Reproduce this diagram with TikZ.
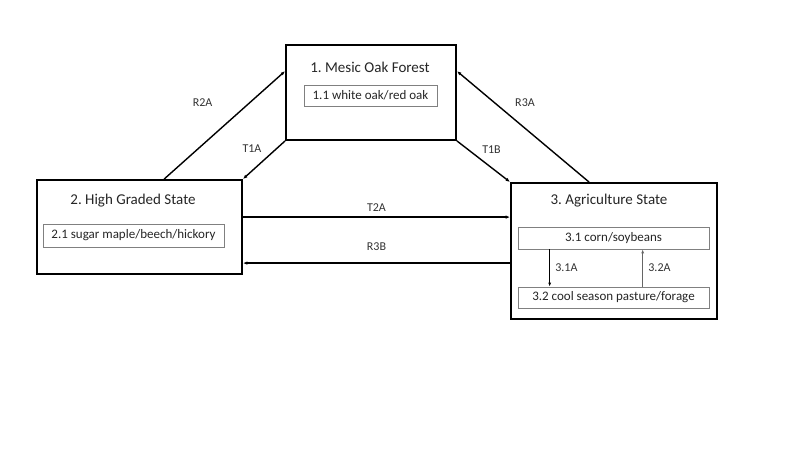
\documentclass[tikz,border=0pt]{standalone}
\usepackage{fontspec}
\setmainfont{Carlito}
\usetikzlibrary{arrows.meta,positioning}
\frenchspacing

\begin{document}
\begin{tikzpicture}[x=1pt, y=-1pt, line cap=butt,
  state/.style={draw, line width=1.8pt, inner sep=0pt},
  title/.style={font=\fontsize{15}{17}\selectfont, text=black!85},
  phase/.style={draw=black!50, line width=0.7pt, inner sep=0pt, font=\fontsize{13}{15}\selectfont, text=black!85},
  trans/.style={line width=1.4pt, -{Latex[length=4.5pt,width=3.5pt]}},
  inner trans/.style={line width=0.8pt, -{Latex[length=4pt,width=3pt]}},
  lbl/.style={font=\fontsize{12}{14}\selectfont, text=black!80}]
  \useasboundingbox[fill=white] (0,0) rectangle (800,450);
  % states
  \node[state, minimum width=170pt, minimum height=95pt] (mof) at (371,92.5) {};
  \node[state, minimum width=205pt, minimum height=94pt] (hgs) at (139.5,227) {};
  \node[state, minimum width=206pt, minimum height=136pt] (ags) at (614,251) {};
  \node[title] (mof title) at (370,67) {1. Mesic Oak Forest};
  \node[title] (hgs title) at (133,201) {2. High Graded State};
  \node[title] (ags title) at (609,201) {3. Agriculture State};
  % phases
  \node[phase, minimum width=133pt, minimum height=21pt] (oak) at (370.5,95.5) {1.1 white oak/red oak};
  \node[phase, minimum width=181pt, minimum height=23pt] (maple) at (133.5,235.5) {2.1 sugar maple/beech/hickory};
  \node[phase, minimum width=191pt, minimum height=22pt] (corn) at (613.5,238) {3.1 corn/soybeans};
  \node[phase, minimum width=191pt, minimum height=21pt] (pasture) at (613.5,297.5) {3.2 cool season pasture/forage};
  % transitions between states
  \draw[trans] ([xshift=128pt]hgs.north west) -- node[lbl, xshift=-22pt, yshift=22pt] {R2A} ([yshift=-27pt]mof.north west);
  \draw[trans] (mof.south west) -- node[lbl, xshift=-12pt, yshift=11pt] {T1A} (hgs.north east);
  \draw[trans] (mof.south east) -- node[lbl, xshift=8pt, yshift=12pt] {T1B} (ags.north west);
  \draw[trans] ([xshift=79pt]ags.north west) -- node[lbl, xshift=2pt, yshift=24pt] {R3A} ([yshift=-27pt]mof.north east);
  \draw[trans] ([yshift=-38pt]hgs.north east) -- node[lbl, above=2pt] {T2A} ([yshift=-38pt]hgs.north east -| ags.west);
  \draw[trans] ([yshift=-84pt]hgs.north east -| ags.west) -- node[lbl, above=8pt] {R3B} ([yshift=-84pt]hgs.north east);
  % transitions between phases
  \draw[inner trans] ([xshift=32pt]corn.south west) -- node[lbl, right=2pt] {3.1A} ([xshift=32pt]pasture.north west);
  \draw[inner trans, black!60] ([xshift=125pt]pasture.north west) -- node[lbl, right=2pt] {3.2A} ([xshift=125pt]corn.south west);
\end{tikzpicture}
\end{document}
